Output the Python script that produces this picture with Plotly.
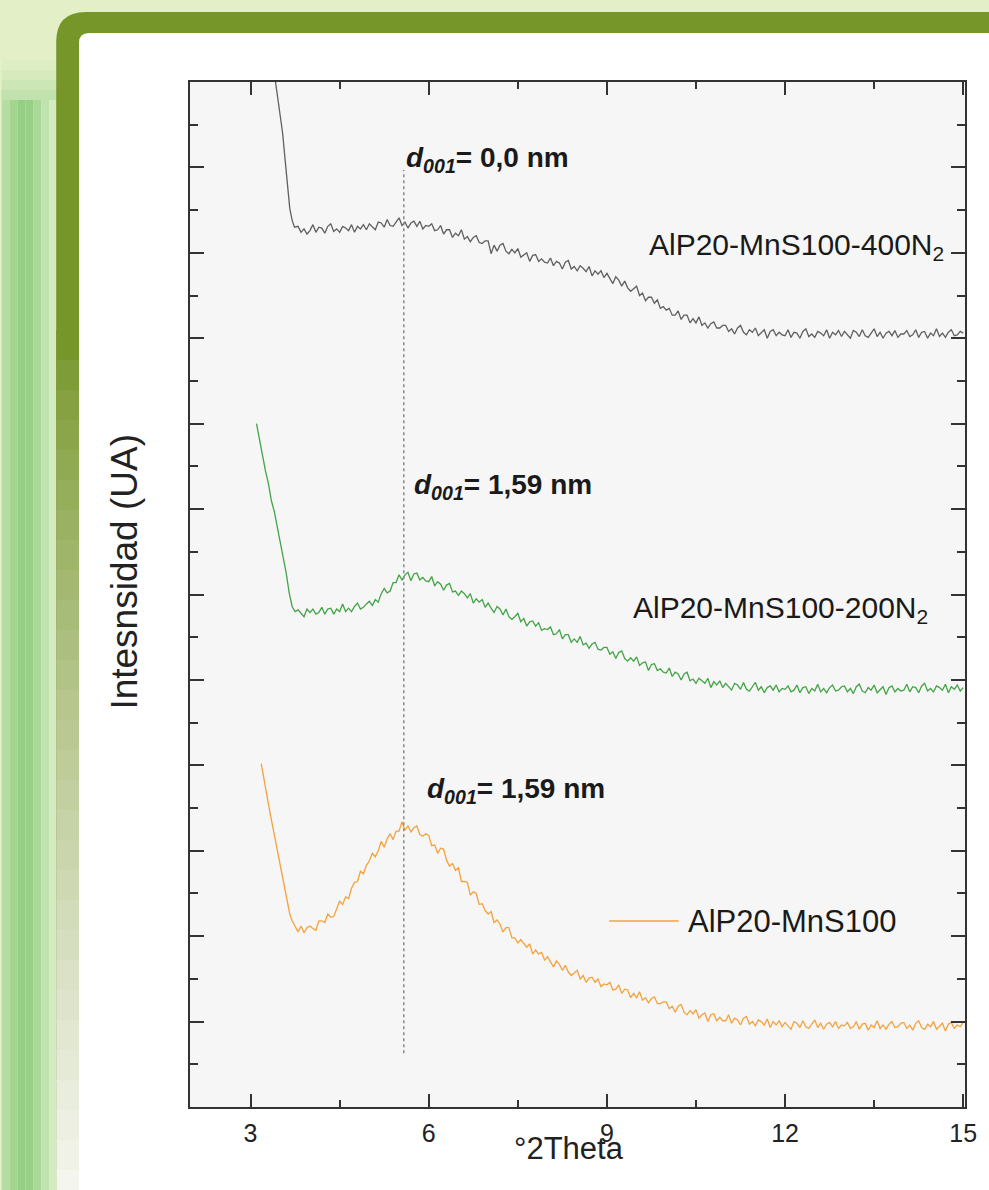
import numpy as np
import plotly.graph_objects as go

# ---------------- data ----------------
SCAN_START = 3.8     # first regular scan point (°2θ)
SCAN_STEP = 0.05     # scan step (°2θ)
PEAK_X = 5.58        # position of d001 reflection marker

# AlP20-MnS100-400N2 (gray)
gray_head_x = [3.38, 3.42, 3.46, 3.50, 3.54, 3.58, 3.62, 3.66, 3.70, 3.74]
gray_head_y = [12.2, 12.0, 11.8, 11.6, 11.4, 11.1, 10.8, 10.52, 10.38, 10.30]
gray_scan_y = [
    10.31, 10.24, 10.28, 10.22,
    10.26, 10.33, 10.24, 10.30, 10.29, 10.23, 10.31, 10.34, 10.25, 10.28,
    10.24, 10.31, 10.29, 10.26, 10.33, 10.24, 10.31, 10.28, 10.33, 10.27,
    10.34, 10.30, 10.27, 10.36, 10.35, 10.30, 10.39, 10.32, 10.31, 10.36,
    10.41, 10.32, 10.36, 10.29, 10.35, 10.37, 10.31, 10.37, 10.28, 10.32,
    10.31, 10.34, 10.26, 10.27, 10.32, 10.22, 10.27, 10.27, 10.18, 10.23,
    10.20, 10.27, 10.16, 10.19, 10.13, 10.18, 10.20, 10.12, 10.11, 10.14,
    10.14, 9.99, 10.09, 10.02, 10.09, 10.11, 10.02, 9.99, 10.04, 10.00,
    10.05, 9.95, 9.98, 10.00, 9.90, 9.97, 9.98, 9.90, 9.93, 9.89,
    9.88, 9.94, 9.85, 9.90, 9.88, 9.81, 9.89, 9.91, 9.81, 9.84,
    9.79, 9.85, 9.82, 9.78, 9.84, 9.73, 9.79, 9.75, 9.79, 9.71,
    9.76, 9.70, 9.64, 9.72, 9.68, 9.61, 9.67, 9.59, 9.55, 9.58,
    9.61, 9.50, 9.53, 9.44, 9.48, 9.48, 9.41, 9.45, 9.35, 9.37,
    9.33, 9.35, 9.27, 9.27, 9.32, 9.22, 9.27, 9.27, 9.18, 9.23,
    9.18, 9.25, 9.15, 9.18, 9.12, 9.17, 9.19, 9.12, 9.12, 9.15,
    9.15, 9.08, 9.11, 9.05, 9.12, 9.15, 9.07, 9.04, 9.10, 9.07,
    9.12, 9.03, 9.07, 9.10, 9.00, 9.08, 9.10, 9.03, 9.07, 9.04,
    9.03, 9.10, 9.01, 9.07, 9.06, 9.00, 9.08, 9.11, 9.02, 9.05,
    9.01, 9.08, 9.06, 9.03, 9.10, 9.00, 9.07, 9.04, 9.09, 9.02,
    9.08, 9.04, 9.00, 9.09, 9.07, 9.02, 9.10, 9.03, 9.01, 9.06,
    9.11, 9.02, 9.07, 9.00, 9.06, 9.08, 9.03, 9.09, 9.01, 9.05,
    9.05, 9.09, 9.02, 9.04, 9.10, 9.01, 9.07, 9.08, 9.00, 9.06,
    9.03, 9.11, 9.02, 9.06, 9.01, 9.07, 9.10, 9.03, 9.04, 9.08,
    9.06,
]

# AlP20-MnS100-200N2 (green)
green_head_x = [3.10, 3.15, 3.20, 3.25, 3.30, 3.35, 3.40, 3.45, 3.50, 3.55, 3.60, 3.65, 3.70, 3.75]
green_head_y = [8.00, 7.80, 7.62, 7.45, 7.30, 7.10, 6.97, 6.80, 6.62, 6.45, 6.25, 6.02, 5.86, 5.80]
green_scan_y = [
    5.82, 5.78, 5.74, 5.83,
    5.79, 5.83, 5.77, 5.79, 5.85, 5.77, 5.83, 5.84, 5.77, 5.83,
    5.80, 5.89, 5.80, 5.84, 5.80, 5.86, 5.90, 5.83, 5.85, 5.89,
    5.92, 5.87, 5.94, 5.91, 6.01, 6.07, 6.02, 6.04, 6.14, 6.14,
    6.23, 6.17, 6.23, 6.26, 6.16, 6.24, 6.25, 6.17, 6.20, 6.16,
    6.15, 6.21, 6.10, 6.15, 6.12, 6.05, 6.11, 6.13, 6.03, 6.04,
    5.99, 6.04, 6.01, 5.96, 6.01, 5.90, 5.95, 5.91, 5.94, 5.85,
    5.90, 5.84, 5.79, 5.86, 5.83, 5.76, 5.83, 5.74, 5.71, 5.74,
    5.78, 5.68, 5.72, 5.63, 5.68, 5.69, 5.63, 5.67, 5.58, 5.60,
    5.59, 5.62, 5.53, 5.54, 5.59, 5.48, 5.53, 5.53, 5.44, 5.48,
    5.44, 5.51, 5.41, 5.43, 5.37, 5.42, 5.44, 5.36, 5.35, 5.38,
    5.38, 5.30, 5.33, 5.25, 5.32, 5.34, 5.25, 5.22, 5.26, 5.22,
    5.27, 5.17, 5.20, 5.21, 5.11, 5.18, 5.19, 5.11, 5.13, 5.09,
    5.08, 5.14, 5.04, 5.09, 5.07, 5.00, 5.07, 5.09, 4.99, 5.01,
    4.96, 5.02, 4.99, 4.96, 5.02, 4.91, 4.98, 4.94, 4.99, 4.91,
    4.96, 4.92, 4.88, 4.96, 4.94, 4.89, 4.97, 4.89, 4.87, 4.92,
    4.97, 4.88, 4.92, 4.85, 4.91, 4.93, 4.88, 4.94, 4.86, 4.90,
    4.89, 4.93, 4.86, 4.88, 4.94, 4.85, 4.91, 4.92, 4.84, 4.90,
    4.87, 4.95, 4.86, 4.90, 4.85, 4.91, 4.94, 4.87, 4.88, 4.92,
    4.93, 4.86, 4.90, 4.84, 4.92, 4.95, 4.87, 4.85, 4.91, 4.88,
    4.94, 4.85, 4.89, 4.92, 4.83, 4.91, 4.93, 4.86, 4.90, 4.87,
    4.88, 4.95, 4.86, 4.92, 4.91, 4.85, 4.93, 4.96, 4.87, 4.90,
    4.86, 4.93, 4.91, 4.88, 4.95, 4.85, 4.92, 4.89, 4.94, 4.87,
    4.91,
]

# AlP20-MnS100 (orange)
orange_head_x = [3.18, 3.22, 3.26, 3.30, 3.34, 3.38, 3.42, 3.46, 3.50, 3.54, 3.58, 3.62, 3.66, 3.70, 3.74]
orange_head_y = [4.02, 3.85, 3.70, 3.55, 3.40, 3.26, 3.12, 2.98, 2.85, 2.70, 2.55, 2.40, 2.26, 2.18, 2.12]
orange_scan_y = [
    2.05, 2.12, 2.04, 2.10,
    2.12, 2.09, 2.07, 2.18, 2.18, 2.16, 2.26, 2.22, 2.23, 2.32,
    2.41, 2.37, 2.46, 2.44, 2.56, 2.63, 2.64, 2.76, 2.73, 2.83,
    2.88, 2.97, 2.93, 3.00, 3.11, 3.04, 3.14, 3.20, 3.13, 3.23,
    3.23, 3.34, 3.24, 3.29, 3.22, 3.27, 3.29, 3.19, 3.17, 3.20,
    3.18, 3.06, 3.07, 2.97, 3.03, 3.02, 2.89, 2.82, 2.85, 2.77,
    2.80, 2.64, 2.64, 2.63, 2.48, 2.52, 2.50, 2.37, 2.38, 2.30,
    2.26, 2.29, 2.16, 2.19, 2.14, 2.05, 2.10, 2.10, 1.98, 1.98,
    1.92, 1.96, 1.92, 1.87, 1.91, 1.79, 1.84, 1.79, 1.81, 1.72,
    1.76, 1.70, 1.64, 1.71, 1.67, 1.60, 1.66, 1.58, 1.54, 1.57,
    1.60, 1.50, 1.54, 1.46, 1.51, 1.52, 1.46, 1.50, 1.41, 1.44,
    1.43, 1.46, 1.37, 1.38, 1.43, 1.33, 1.38, 1.37, 1.28, 1.33,
    1.28, 1.35, 1.25, 1.28, 1.22, 1.27, 1.29, 1.21, 1.21, 1.23,
    1.23, 1.15, 1.18, 1.11, 1.18, 1.20, 1.11, 1.08, 1.13, 1.09,
    1.14, 1.04, 1.08, 1.10, 1.00, 1.08, 1.09, 1.01, 1.05, 1.01,
    1.01, 1.08, 0.98, 1.04, 1.02, 0.96, 1.04, 1.06, 0.97, 1.00,
    0.95, 1.02, 1.00, 0.96, 1.03, 0.93, 1.00, 0.96, 1.01, 0.94,
    0.99, 0.95, 0.91, 1.00, 0.98, 0.93, 1.01, 0.94, 0.92, 0.97,
    1.02, 0.93, 0.98, 0.91, 0.97, 0.99, 0.94, 1.00, 0.92, 0.96,
    0.95, 0.99, 0.92, 0.94, 1.00, 0.91, 0.97, 0.98, 0.90, 0.96,
    0.93, 1.01, 0.92, 0.96, 0.91, 0.97, 1.00, 0.93, 0.94, 0.98,
    0.99, 0.92, 0.96, 0.90, 0.98, 1.01, 0.93, 0.91, 0.97, 0.94,
    1.00, 0.91, 0.95, 0.98, 0.89, 0.97, 0.99, 0.92, 0.96, 0.94,
    0.99,
]

x_tickvals = [3, 6, 9, 12, 15]
x_ticktext = ["3", "6", "9", "12", "15"]
x_minor = [4.5, 7.5, 10.5, 13.5]
y_tickvals = [1, 2, 3, 4, 5, 6, 7, 8, 9, 10, 11]
y_minor = [0.5, 1.5, 2.5, 3.5, 4.5, 5.5, 6.5, 7.5, 8.5, 9.5, 10.5, 11.5]

series = [
    ("AlP20-MnS100-400N2", gray_head_x, gray_head_y, gray_scan_y, "#606060"),
    ("AlP20-MnS100-200N2", green_head_x, green_head_y, green_scan_y, "#43a346"),
    ("AlP20-MnS100", orange_head_x, orange_head_y, orange_scan_y, "#f4a23c"),
]

# ---------------- layout helpers ----------------
W, H = 989, 1190
ML, MR, MT, MB = 190, 17, 82, 83
PW, PH = W - ML - MR, H - MT - MB


def fx(px):
    return (px - ML) / PW


def fy(py):
    return (H - MB - py) / PH


def rounded_rect_path(x0, y0, x1, y1, r):
    pts = [
        f"M {fx(x0 + r)} {fy(y0)}",
        f"L {fx(x1)} {fy(y0)}",
        f"L {fx(x1)} {fy(y1)}",
        f"L {fx(x0)} {fy(y1)}",
        f"L {fx(x0)} {fy(y0 + r)}",
        f"Q {fx(x0)} {fy(y0)} {fx(x0 + r)} {fy(y0)}",
        "Z",
    ]
    return " ".join(pts)


FONT = "Liberation Sans, Arial, sans-serif"

fig = go.Figure()

for name, hx, hy, sy, color in series:
    xs = list(hx) + [round(SCAN_START + SCAN_STEP * i, 2) for i in range(len(sy))]
    ys = list(hy) + list(sy)
    fig.add_trace(go.Scatter(x=xs, y=ys, mode="lines", name=name,
                             line=dict(color=color, width=1.3), showlegend=False,
                             hoverinfo="skip"))

shapes = []
# left green glow strip
strip_cols = ["#b5dca2", "#a3d490", "#96ce83", "#99d088", "#a9d899", "#c0e2ad", "#d4ebc1"]
for i, c in enumerate(strip_cols):
    shapes.append(dict(type="rect", xref="paper", yref="paper", layer="below",
                       x0=fx(i * 8), x1=fx(i * 8 + 8), y0=fy(1200), y1=fy(90),
                       fillcolor=c, line=dict(width=0)))
for i, c in enumerate(["#deeec4", "#d6eabd", "#cce6b5", "#c2e2ad"]):
    shapes.append(dict(type="rect", xref="paper", yref="paper", layer="below",
                       x0=fx(0), x1=fx(55), y0=fy(60 + (i + 1) * 10), y1=fy(60 + i * 10),
                       fillcolor=c, line=dict(width=0)))
# olive frame
shapes.append(dict(type="path", xref="paper", yref="paper", layer="below",
                   path=rounded_rect_path(55, 12, 1010, 1210, 30),
                   fillcolor="#76962a", line=dict(width=0)))
# fading left edge of frame
n = 30
c0 = np.array([0x76, 0x96, 0x2a])
c1 = np.array([0xf8, 0xf8, 0xf4])
for i in range(n):
    t = i / (n - 1)
    col = c0 + (c1 - c0) * min(1.0, t ** 0.8)
    y0 = 330 + i * 30
    shapes.append(dict(type="rect", xref="paper", yref="paper", layer="below",
                       x0=fx(55), x1=fx(79), y0=fy(y0 + 31), y1=fy(y0),
                       fillcolor="rgb(%d,%d,%d)" % tuple(col.astype(int)),
                       line=dict(width=0)))
# white inner panel
shapes.append(dict(type="path", xref="paper", yref="paper", layer="below",
                   path=rounded_rect_path(78, 33, 1010, 1210, 10),
                   fillcolor="#ffffff", line=dict(width=0)))
# plot-area background
shapes.append(dict(type="rect", xref="paper", yref="paper", layer="below",
                   x0=0, x1=1, y0=0, y1=1, fillcolor="#f6f6f6", line=dict(width=0)))
# d001 marker line
shapes.append(dict(type="line", xref="x", yref="y", x0=PEAK_X, x1=PEAK_X, y0=0.63, y1=10.97,
                   line=dict(color="#8a8a8a", width=1.5, dash="dot")))
# legend key for orange series
shapes.append(dict(type="line", xref="paper", yref="paper", x0=fx(613), x1=fx(683),
                   y0=fy(921), y1=fy(921), line=dict(color="#f4a23c", width=1.5)))

annotations = []
d_lab = [
    (PEAK_X, 11.09, "0,0 nm"),
    (PEAK_X + 0.13, 7.26, "1,59 nm"),
    (PEAK_X + 0.36, 3.71, "1,59 nm"),
]
for x, y, val in d_lab:
    annotations.append(dict(x=x, y=y, xref="x", yref="y", xanchor="left", yanchor="middle",
                            showarrow=False,
                            text=f"<b><i>d</i><sub><i>001</i></sub>= {val}</b>",
                            font=dict(family=FONT, size=28, color="#1a1a1a")))
annotations.append(dict(x=fx(953), y=fy(246), xref="paper", yref="paper", xanchor="right",
                        yanchor="middle", showarrow=False,
                        text="AlP20-MnS100-400N<sub>2</sub>",
                        font=dict(family=FONT, size=30, color="#1a1a1a")))
annotations.append(dict(x=fx(937), y=fy(609), xref="paper", yref="paper", xanchor="right",
                        yanchor="middle", showarrow=False,
                        text="AlP20-MnS100-200N<sub>2</sub>",
                        font=dict(family=FONT, size=30, color="#1a1a1a")))
annotations.append(dict(x=fx(690), y=fy(921), xref="paper", yref="paper", xanchor="left",
                        yanchor="middle", showarrow=False, text="AlP20-MnS100",
                        font=dict(family=FONT, size=31, color="#1a1a1a")))
annotations.append(dict(x=fx(123), y=fy(572), xref="paper", yref="paper", xanchor="center",
                        yanchor="middle", showarrow=False, textangle=-90,
                        text="Intesnsidad (UA)",
                        font=dict(family=FONT, size=37, color="#222222")))
annotations.append(dict(x=fx(572), y=fy(1148), xref="paper", yref="paper", xanchor="center",
                        yanchor="middle", showarrow=False, text="°2Theta",
                        font=dict(family=FONT, size=31, color="#222222")))

axis_common = dict(showgrid=False, zeroline=False, showline=True, linewidth=2,
                   linecolor="#333333", mirror="ticks", ticks="inside",
                   tickcolor="#333333", tickwidth=1.5)

fig.update_layout(
    width=W, height=H,
    margin=dict(l=ML, r=MR, t=MT, b=MB),
    paper_bgcolor="#e3efc6",
    plot_bgcolor="rgba(0,0,0,0)",
    shapes=shapes,
    annotations=annotations,
    showlegend=False,
    xaxis=dict(range=[1.98, 15.03], tickvals=x_tickvals, ticktext=x_ticktext,
               ticklen=13, ticklabelstandoff=3,
               tickfont=dict(family=FONT, size=25, color="#222222"),
               minor=dict(tickvals=x_minor, ticks="inside", ticklen=7,
                          tickcolor="#333333", tickwidth=1.5),
               **axis_common),
    yaxis=dict(range=[0, 12], tickvals=y_tickvals, showticklabels=False,
               ticklen=14,
               minor=dict(tickvals=y_minor, ticks="inside", ticklen=8,
                          tickcolor="#333333", tickwidth=1.5),
               **axis_common),
)

fig.write_html("out.html")
